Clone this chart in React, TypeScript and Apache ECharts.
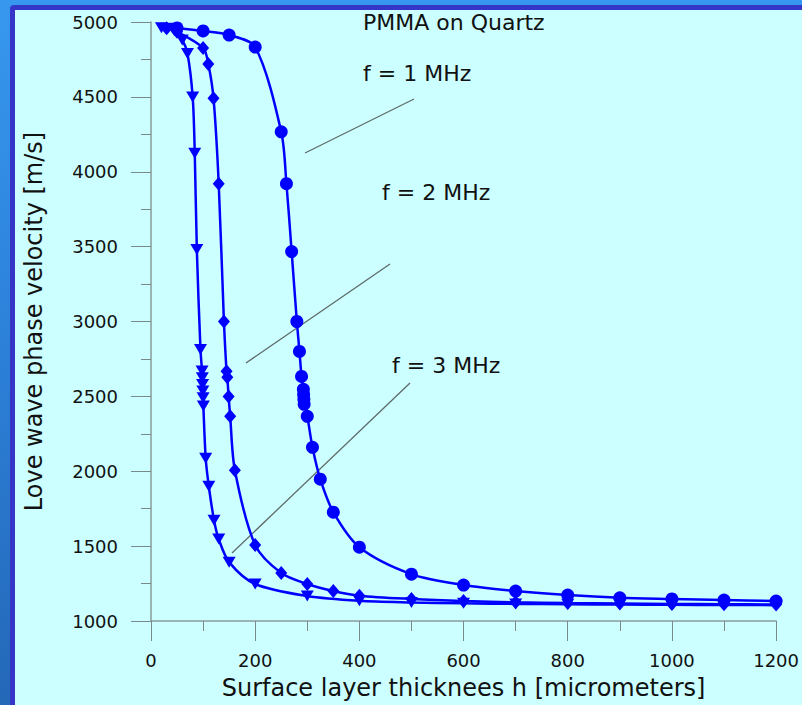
import React, { useEffect, useRef } from "react";
import * as echarts from "echarts";

// ---- Data ----
const xTicks = [0, 200, 400, 600, 800, 1000, 1200];
const yTicks = [1000, 1500, 2000, 2500, 3000, 3500, 4000, 4500, 5000];

// f = 1 MHz (circles)
const f1Thickness = [50, 100, 150, 200, 250, 260, 270, 280, 285, 289, 292.5, 293, 293.5, 294, 300, 310, 325, 350, 400, 500, 600, 700, 800, 900, 1000, 1100, 1200];
const f1Velocity = [4960, 4940, 4913, 4833, 4267, 3920, 3467, 3000, 2800, 2633, 2547, 2513, 2480, 2447, 2367, 2160, 1947, 1727, 1493, 1313, 1240, 1200, 1173, 1155, 1147, 1140, 1133];

// f = 2 MHz (diamonds)
const f2Thickness = [30, 50, 100, 110, 120, 130, 140, 145, 146.5, 149, 152, 161, 200, 250, 300, 350, 400, 500, 600, 700, 800, 900, 1000, 1100, 1200];
const f2Velocity = [4958, 4935, 4827, 4720, 4491, 3920, 3000, 2667, 2627, 2500, 2367, 2007, 1507, 1320, 1247, 1200, 1169, 1147, 1133, 1125, 1120, 1117, 1114, 1112, 1110];

// f = 3 MHz (triangles)
const f3Thickness = [20, 30, 45, 60, 70, 80, 84, 88, 95, 98, 98.5, 99, 99.5, 100, 100.5, 105, 111, 121, 130, 150, 200, 300, 400, 500, 600, 700, 800, 900, 1000, 1100, 1200];
const f3Velocity = [4962, 4958, 4942, 4880, 4790, 4500, 4124, 3480, 2813, 2669, 2624, 2580, 2536, 2491, 2436, 2087, 1900, 1673, 1547, 1393, 1247, 1167, 1135, 1124, 1118, 1114, 1112, 1110, 1108, 1107, 1106];

const titleText = "PMMA on Quartz";
const xAxisTitle = "Surface layer thicknees h [micrometers]";
const yAxisTitle = "Love wave phase velocity [m/s]";
const annotationLabels = ["f = 1 MHz", "f = 2 MHz", "f = 3 MHz"];

const FONT = "DejaVu Sans";
const BLUE = "#0000ff";
const TEXT = "#111111";
const AXIS = "#8a9b9b";

function zip(xs: number[], ys: number[]) {
  return xs.map((x, i) => [x, ys[i]]);
}

export default function App() {
  const ref = useRef<HTMLDivElement>(null);

  useEffect(() => {
    if (!ref.current) return;
    const chart = echarts.init(ref.current, undefined, { renderer: "svg" });

    const lineBase = {
      type: "line" as const,
      smooth: 0.3,
      lineStyle: { color: BLUE, width: 2.5 },
      itemStyle: { color: BLUE },
      showAllSymbol: true,
      emphasis: { disabled: true },
    };

    const plain = (v: number) => String(v);

    const option: any = {
      animation: false,
      backgroundColor: "transparent",
      textStyle: { fontFamily: FONT },
      title: {
        text: titleText,
        left: 358,
        top: 6,
        textStyle: { fontSize: 22, fontWeight: "normal", color: TEXT, fontFamily: FONT },
      },
      grid: { left: 151, top: 22, width: 626, height: 600, containLabel: false },
      xAxis: {
        type: "value",
        min: xTicks[0],
        max: xTicks[xTicks.length - 1],
        interval: xTicks[1] - xTicks[0],
        name: xAxisTitle,
        nameLocation: "middle",
        nameGap: 55,
        nameTextStyle: { fontSize: 24, color: TEXT, fontFamily: FONT },
        axisLine: { show: true, onZero: false, lineStyle: { color: AXIS, width: 1.5 } },
        axisTick: { show: true, length: 20, lineStyle: { color: "#7a8a8a", width: 1 } },
        minorTick: { show: true, splitNumber: 2, length: 10, lineStyle: { color: "#7a8a8a", width: 1 } },
        axisLabel: { fontSize: 18, color: TEXT, margin: 30, fontFamily: FONT, formatter: plain },
        splitLine: { show: false },
        minorSplitLine: { show: false },
      },
      yAxis: {
        type: "value",
        min: yTicks[0],
        max: yTicks[yTicks.length - 1],
        interval: yTicks[1] - yTicks[0],
        name: yAxisTitle,
        nameLocation: "middle",
        nameGap: 105,
        nameRotate: 90,
        nameTextStyle: { fontSize: 24, color: TEXT, fontFamily: FONT },
        axisLine: { show: true, onZero: false, lineStyle: { color: AXIS, width: 1.5 } },
        axisTick: { show: true, length: 20, lineStyle: { color: "#7a8a8a", width: 1 } },
        minorTick: { show: true, splitNumber: 2, length: 10, lineStyle: { color: "#7a8a8a", width: 1 } },
        axisLabel: { fontSize: 18, color: TEXT, margin: 33, fontFamily: FONT, formatter: plain },
        splitLine: { show: false },
        minorSplitLine: { show: false },
      },
      series: [
        {
          ...lineBase,
          name: "f = 1 MHz",
          data: zip(f1Thickness, f1Velocity),
          symbol: "circle",
          symbolSize: 13,
        },
        {
          ...lineBase,
          name: "f = 2 MHz",
          data: zip(f2Thickness, f2Velocity),
          symbol: "diamond",
          symbolSize: [12, 14],
        },
        {
          ...lineBase,
          name: "f = 3 MHz",
          data: zip(f3Thickness, f3Velocity),
          symbol: "triangle",
          symbolRotate: 180,
          symbolSize: [13, 11],
        },
      ],
      graphic: [
        { type: "line", shape: { x1: 305, y1: 153, x2: 414, y2: 99 }, style: { stroke: "#5f6a6a", lineWidth: 1.3 } },
        { type: "line", shape: { x1: 246, y1: 363, x2: 390, y2: 264 }, style: { stroke: "#5f6a6a", lineWidth: 1.3 } },
        { type: "line", shape: { x1: 232, y1: 553, x2: 410, y2: 383 }, style: { stroke: "#5f6a6a", lineWidth: 1.3 } },
        { type: "text", x: 363, y: 73, style: { text: annotationLabels[0], fontSize: 22, fontFamily: FONT, fill: TEXT, verticalAlign: "middle", align: "left" } },
        { type: "text", x: 382, y: 192, style: { text: annotationLabels[1], fontSize: 22, fontFamily: FONT, fill: TEXT, verticalAlign: "middle", align: "left" } },
        { type: "text", x: 392, y: 365, style: { text: annotationLabels[2], fontSize: 22, fontFamily: FONT, fill: TEXT, verticalAlign: "middle", align: "left" } },
      ],
    };

    chart.setOption(option);
    return () => chart.dispose();
  }, []);

  return (
    <div
      style={{
        position: "fixed",
        left: 0,
        top: 0,
        width: 802,
        height: 705,
        overflow: "hidden",
        background: "linear-gradient(180deg, #3797ee 0%, #2c80d8 50%, #2468b8 100%)",
      }}
    >
      <div
        style={{
          position: "absolute",
          left: 10,
          top: 5,
          width: 800,
          height: 720,
          boxSizing: "border-box",
          border: "5px solid #3535c8",
          borderRadius: 4,
          background: "#ccffff",
        }}
      />
      <div ref={ref} style={{ position: "absolute", left: 0, top: 0, width: 802, height: 705 }} />
    </div>
  );
}
